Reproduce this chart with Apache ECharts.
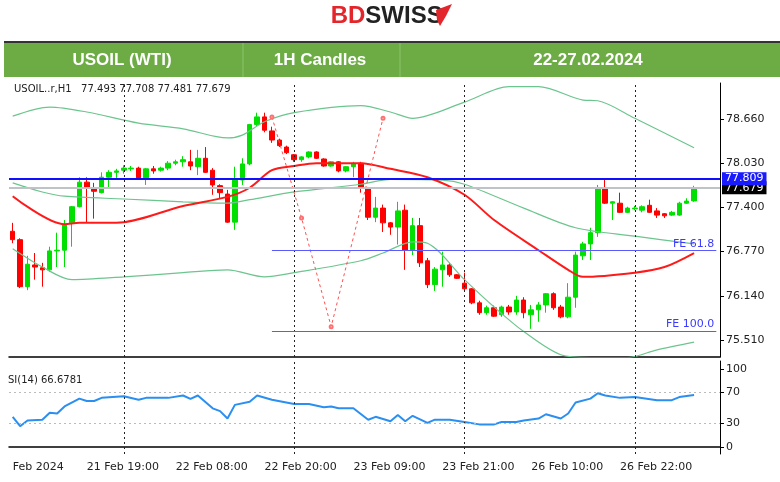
<!DOCTYPE html>
<html><head><meta charset="utf-8">
<script src="https://cdn.jsdelivr.net/npm/echarts@6/dist/echarts.min.js"></script>
<style>html,body{margin:0;padding:0;background:#fff}#c{width:780px;height:482px}</style>
</head><body><div id="c"></div>
<script>
// [open, close, low, high]
const candles = [
[77.06,76.94,76.89,77.18],[76.94,76.27,76.25,76.96],[76.27,76.59,76.22,76.71],[76.58,76.55,76.37,76.75],
[76.54,76.51,76.27,76.61],[76.51,76.78,76.48,76.84],[76.78,76.79,76.55,77.04],[76.79,77.15,76.55,77.22],
[77.18,77.41,76.84,77.42],[77.41,77.76,77.40,77.83],[77.76,77.68,77.19,77.83],[77.68,77.63,77.24,77.75],
[77.61,77.83,77.60,77.90],[77.83,77.90,77.68,77.93],[77.90,77.92,77.82,77.95],[77.93,77.96,77.88,78.00],
[77.95,77.96,77.92,77.99],[77.96,77.82,77.81,77.98],[77.82,77.95,77.72,77.96],[77.95,77.92,77.88,77.99],
[77.93,77.96,77.91,77.98],[77.96,78.03,77.93,78.06],[78.03,78.05,78.00,78.08],[78.05,78.08,77.98,78.13],
[78.05,77.99,77.93,78.22],[77.98,78.10,77.86,78.22],[78.10,77.90,77.89,78.26],[77.93,77.72,77.58,77.96],
[77.71,77.61,77.52,77.73],[77.59,77.19,77.18,77.65],[77.19,77.79,77.08,77.98],[77.79,78.02,77.72,78.10],
[78.02,78.58,78.00,78.59],[78.58,78.69,78.56,78.75],[78.69,78.50,78.47,78.75],[78.49,78.36,78.32,78.55],
[78.36,78.28,78.26,78.38],[78.26,78.18,78.16,78.28],[78.15,78.08,78.05,78.16],[78.08,78.12,78.05,78.13],
[78.12,78.19,78.10,78.20],[78.19,78.10,78.09,78.20],[78.09,77.99,77.98,78.10],[77.99,78.05,77.98,78.06],
[78.05,77.92,77.90,78.06],[77.92,77.98,77.90,77.99],[77.98,78.02,77.83,78.05],[78.03,77.68,77.61,78.05],
[77.68,77.26,77.22,77.69],[77.26,77.39,77.19,77.55],[77.39,77.18,77.05,77.44],[77.18,77.12,77.01,77.19],
[77.12,77.35,76.87,77.48],[77.36,76.79,76.51,77.44],[76.79,77.14,76.72,77.25],[77.14,76.61,76.55,77.25],
[76.64,76.30,76.25,76.68],[76.30,76.52,76.21,76.55],[76.51,76.58,76.27,76.77],[76.58,76.44,76.41,76.61],
[76.44,76.39,76.38,76.45],[76.32,76.24,76.22,76.47],[76.24,76.04,76.02,76.25],[76.04,75.90,75.87,76.07],
[75.90,75.97,75.87,76.00],[75.97,75.85,75.84,76.00],[75.87,75.98,75.84,76.00],[75.98,75.91,75.87,76.01],
[75.91,76.08,75.87,76.14],[76.08,75.90,75.82,76.12],[75.87,75.94,75.67,76.01],[75.94,76.01,75.77,76.05],
[76.01,76.17,75.90,76.18],[76.17,75.97,75.94,76.19],[75.98,75.84,75.82,76.01],[75.84,76.12,75.82,76.32],
[76.12,76.72,75.97,76.77],[76.71,76.88,76.65,76.91],[76.88,77.04,76.65,77.11],[77.04,77.68,76.98,77.72],
[77.68,77.46,77.45,77.79],[77.46,77.48,77.22,77.49],[77.46,77.33,77.32,77.61],[77.33,77.39,77.32,77.41],
[77.38,77.39,77.36,77.42],[77.36,77.41,77.33,77.43],[77.43,77.33,77.32,77.51],[77.35,77.29,77.25,77.39],
[77.31,77.28,77.25,77.32],[77.29,77.33,77.28,77.35],[77.29,77.46,77.28,77.48],[77.46,77.49,77.45,77.53],
[77.493,77.679,77.481,77.708]
];
// sparse indicator readings: [barIndex, value]
const maRed = [[0,77.56],[7,77.16],[9,77.18],[14,77.18],[23,77.42],[29,77.55],[32,77.68],[35,77.93],[38,77.99],[41,78.03],[47,78.03],[51,77.95],[56,77.83],[61,77.58],[65,77.22],[71,76.79],[75,76.51],[77,76.41],[84,76.47],[88,76.55],[92,76.75]];
const bbUpper = [[0,78.70],[5,78.83],[10,78.76],[17,78.60],[23,78.52],[29,78.39],[31,78.43],[34,78.62],[38,78.75],[47,78.85],[51,78.76],[54,78.67],[61,78.90],[67,79.12],[71,79.12],[77,78.93],[79,78.92],[84,78.67],[92,78.25]];
const bbMid = [[0,77.75],[4,77.62],[7,77.56],[15,77.52],[23,77.48],[29,77.46],[32,77.51],[38,77.62],[47,77.73],[51,77.80],[58,77.79],[61,77.73],[69,77.39],[76,77.11],[84,76.99],[92,76.88]];
const bbLower = [[0,76.81],[4,76.55],[8,76.37],[15,76.41],[23,76.47],[29,76.51],[34,76.41],[38,76.47],[47,76.64],[50,76.75],[54,76.91],[56,76.89],[61,76.37],[65,75.98],[69,75.63],[74,75.30],[78,75.26],[83,75.26],[87,75.37],[92,75.48]];
const zigzag = [[35,78.69],[39,77.25],[43,75.70],[50,78.67]];
const rsi = [[0,38.7],[1,26.7],[2,34],[4,35],[5,44],[6,43],[7,52],[9,62],[10,59],[11,59],[12,63],[15,65],[17,60.5],[18,63],[21,63],[23,66],[24,61.6],[25,66],[27,49.6],[28,46],[29,36.5],[30,54],[32,58],[33,66],[35,60.5],[38,55],[40,55],[42,51],[43,52],[44,49.6],[46,49.6],[48,35],[49,38.7],[51,33],[52,41],[53,33],[54,40],[56,31],[57,35],[59,35],[61,32],[63,29],[65,29],[66,32],[68,32],[69,34],[71,36.5],[72,42],[74,36.5],[75,43],[76,57],[78,62],[79,69],[80,66],[82,63],[84,64],[87,60],[89,60],[90,64],[92,66.7]];
const priceTicks = [75.510,76.140,76.770,77.400,78.030,78.660];
const rsiTicks = [0,30,70,100];
const timeLabels = {0:'Feb 2024',10:'21 Feb 19:00',22:'22 Feb 08:00',34:'22 Feb 20:00',46:'23 Feb 09:00',58:'23 Feb 21:00',70:'26 Feb 10:00',82:'26 Feb 22:00'};
const daySeparators = [15,38,61,84];
const levels = {high:77.809, last:77.679, fe618:76.79, fe100:75.64};
const NCAT = 96;
const categories = Array.from({length:NCAT},(_,i)=>String(i));

function sparse(pts){const a=new Array(NCAT).fill(null);pts.forEach(p=>a[p[0]]=p[1]);return a;}
const GREEN='#00e000', RED='#ff0000';
const sepLines = daySeparators.map(i=>({xAxis:String(i)}));
const font='"DejaVu Sans", sans-serif';
const feStyle={color:'#5a5aff',type:'solid',width:1};

const chart = echarts.init(document.getElementById('c'));
chart.setOption({
  animation:false,
  grid:[{left:9,right:60,top:83,bottom:125},{left:9,right:60,top:361,bottom:28}],
  xAxis:[
    {type:'category',data:categories,gridIndex:0,boundaryGap:true,axisLabel:{show:false},axisTick:{show:false},axisLine:{lineStyle:{color:'#000',width:1.5}}},
    {type:'category',data:categories,gridIndex:1,boundaryGap:true,axisLine:{lineStyle:{color:'#000',width:1.5}},
     axisTick:{alignWithLabel:true,length:4,lineStyle:{color:'#000'},interval:(i)=>timeLabels[i]!==undefined},
     axisLabel:{interval:(i)=>timeLabels[i]!==undefined,formatter:(v,i)=>timeLabels[i]||'',align:'left',color:'#222',fontSize:11,fontFamily:font,margin:8}}
  ],
  yAxis:[
    {type:'value',gridIndex:0,position:'right',min:75.268,max:79.173,splitLine:{show:false},
     axisLine:{show:true,lineStyle:{color:'#000'}},axisTick:{show:true,customValues:priceTicks,length:4,lineStyle:{color:'#000'}},
     axisLabel:{customValues:priceTicks,formatter:v=>v.toFixed(3),color:'#222',fontSize:11,fontFamily:font,margin:6}},
    {type:'value',gridIndex:1,position:'right',min:-8.97,max:110.26,splitLine:{show:false},
     axisLine:{show:true,lineStyle:{color:'#000'}},axisTick:{show:true,customValues:rsiTicks,length:4,lineStyle:{color:'#000'}},
     axisLabel:{customValues:rsiTicks,color:'#222',fontSize:11,fontFamily:font,margin:6}}
  ],
  series:[
    {type:'line',data:sparse(bbUpper),connectNulls:true,symbol:'none',smooth:0.3,lineStyle:{color:'#6cc58e',width:1.2},xAxisIndex:0,yAxisIndex:0},
    {type:'line',data:sparse(bbMid),connectNulls:true,symbol:'none',smooth:0.3,lineStyle:{color:'#6cc58e',width:1.2},xAxisIndex:0,yAxisIndex:0},
    {type:'line',data:sparse(bbLower),connectNulls:true,symbol:'none',smooth:0.3,lineStyle:{color:'#6cc58e',width:1.2},xAxisIndex:0,yAxisIndex:0},
    {type:'candlestick',data:candles,barWidth:5,xAxisIndex:0,yAxisIndex:0,
     itemStyle:{color:GREEN,color0:RED,borderColor:GREEN,borderColor0:RED,borderWidth:1},
     markLine:{silent:true,symbol:'none',animation:false,data:[
       ...sepLines.map(d=>Object.assign({lineStyle:{color:'#222',type:[2,3],width:1},label:{show:false}},d)),
       {yAxis:levels.last,lineStyle:{color:'#bfc3c8',type:'solid',width:2},label:{show:true,position:'end',distance:2,formatter:levels.last.toFixed(3),color:'#fff',backgroundColor:'#000',padding:[1,3],fontSize:11,fontFamily:font}},
       {yAxis:levels.high,lineStyle:{color:'#1010ff',type:'solid',width:2},label:{show:true,position:'end',distance:2,formatter:levels.high.toFixed(3),color:'#fff',backgroundColor:'#1a1aff',padding:[1,3],fontSize:11,fontFamily:font}},
       [{coord:['35',levels.fe618],lineStyle:feStyle,label:{show:true,position:'insideEndTop',formatter:'FE 61.8',color:'#3a3aff',fontSize:11,fontFamily:font,distance:[2,1]}},{coord:['95',levels.fe618],lineStyle:feStyle}],
       [{coord:['35',levels.fe100],lineStyle:feStyle,label:{show:true,position:'insideEndTop',formatter:'FE 100.0',color:'#3a3aff',fontSize:11,fontFamily:font,distance:[2,1]}},{coord:['95',levels.fe100],lineStyle:feStyle}]
     ]}},
    {type:'line',data:sparse(maRed),connectNulls:true,symbol:'none',smooth:0.3,lineStyle:{color:'#ff1a1a',width:2},xAxisIndex:0,yAxisIndex:0,z:3},
    {type:'line',data:sparse(zigzag),connectNulls:true,symbol:'emptyCircle',symbolSize:3,itemStyle:{color:'#ff7070'},lineStyle:{color:'#ff5050',width:1,type:[3,3]},xAxisIndex:0,yAxisIndex:0},
    {type:'line',data:sparse(rsi),connectNulls:true,symbol:'none',lineStyle:{color:'#2a8ff0',width:2},xAxisIndex:1,yAxisIndex:1,
     markLine:{silent:true,symbol:'none',data:[
       ...sepLines.map(d=>Object.assign({lineStyle:{color:'#222',type:[2,3],width:1},label:{show:false}},d)),
       {yAxis:70,lineStyle:{color:'#bbb',type:[2,3],width:1},label:{show:false}},
       {yAxis:30,lineStyle:{color:'#bbb',type:[2,3],width:1},label:{show:false}}
     ]}}
  ],
  graphic:[
    {type:'text',left:'center',top:4,style:{rich:{a:{fill:'#e3262b',fontSize:24,fontWeight:'bold',fontFamily:'"Liberation Sans", Arial'},b:{fill:'#222',fontSize:24,fontWeight:'bold',fontFamily:'"Liberation Sans", Arial'}},text:'{a|BD}{b|SWISS}  '}},
    {type:'polygon',shape:{points:[[436,10],[452,4],[446,16],[440,26],[437,20]]},style:{fill:'#e3262b'}},
    {type:'rect',shape:{x:4,y:42,width:776,height:35},style:{fill:'#6dab45'}},
    {type:'line',shape:{x1:4,y1:42,x2:780,y2:42},style:{stroke:'#333',lineWidth:2}},
    {type:'line',shape:{x1:243,y1:43,x2:243,y2:77},style:{stroke:'#8cc56a',lineWidth:1}},
    {type:'line',shape:{x1:400,y1:43,x2:400,y2:77},style:{stroke:'#8cc56a',lineWidth:1}},
    {type:'text',x:122,y:60,style:{text:'USOIL (WTI)',fill:'#fff',fontSize:17,fontWeight:'bold',fontFamily:'"Liberation Sans", Arial',align:'center',verticalAlign:'middle'}},
    {type:'text',x:320,y:60,style:{text:'1H Candles',fill:'#fff',fontSize:17,fontWeight:'bold',fontFamily:'"Liberation Sans", Arial',align:'center',verticalAlign:'middle'}},
    {type:'text',x:588,y:60,style:{text:'22-27.02.2024',fill:'#fff',fontSize:17,fontWeight:'bold',fontFamily:'"Liberation Sans", Arial',align:'center',verticalAlign:'middle'}},
    {type:'text',x:14,y:84,style:{text:'USOIL..r,H1   77.493 77.708 77.481 77.679',fill:'#222',fontSize:10,fontFamily:font}},
    {type:'text',x:8,y:375,style:{text:'SI(14) 66.6781',fill:'#222',fontSize:10,fontFamily:font}}
  ]
});
</script></body></html>
